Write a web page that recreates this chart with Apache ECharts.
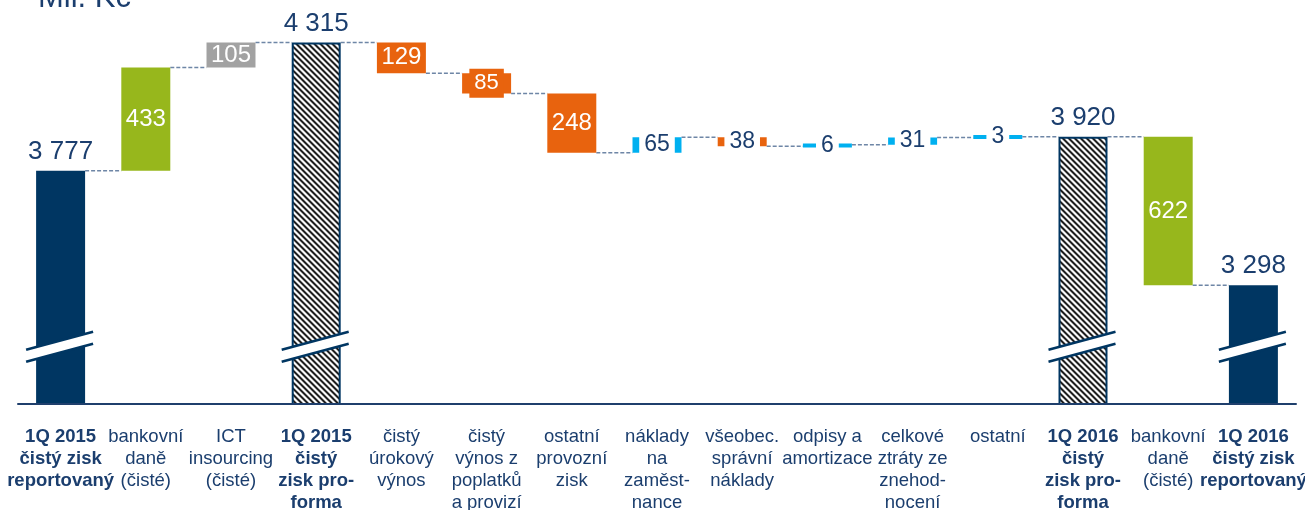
<!DOCTYPE html>
<html><head><meta charset="utf-8">
<script src="https://cdn.jsdelivr.net/npm/echarts@6/dist/echarts.min.js"></script>
<style>html,body{margin:0;padding:0;background:#fff}#c{width:1305px;height:510px}</style>
</head><body><div id="c"></div>
<script>
// ---- data ----
const categories = [
  '1Q 2015\nčistý zisk\nreportovaný',
  'bankovní\ndaně\n(čisté)',
  'ICT\ninsourcing\n(čisté)',
  '1Q 2015\nčistý\nzisk pro-\nforma',
  'čistý\núrokový\nvýnos',
  'čistý\nvýnos z\npoplatků\na provizí',
  'ostatní\nprovozní\nzisk',
  'náklady\nna\nzaměst-\nnance',
  'všeobec.\nsprávní\nnáklady',
  'odpisy a\namortizace',
  'celkové\nztráty ze\nznehod-\nnocení',
  'ostatní',
  '1Q 2016\nčistý\nzisk pro-\nforma',
  'bankovní\ndaně\n(čisté)',
  '1Q 2016\nčistý zisk\nreportovaný'
];
const values = [3777, 433, 105, 4315, -129, -85, -248, 65, -38, 6, 31, 3, 3920, -622, 3298];
const kinds = ['reported','tax','ict','proforma','op','op','op','op','op','op','op','op','proforma','tax','reported'];
const unitTitle = 'Mil. Kč';
const axisMin = 2800, axisMax = 4480, breakValue = 3040;

// ---- styles ----
const NAVY_TEXT = '#1b3e6e';
const NAVY_BAR = '#003662';
const GREEN = '#97b71c';
const GRAY = '#a2a2a2';
const ORANGE = '#e8630e';
const BLUE = '#00b0f0';
const CONNECTOR = '#6e86a6';
const FONT = '"Liberation Sans", Arial, sans-serif';

function fmt(v) {
  const s = String(Math.abs(v));
  return s.replace(/\B(?=(\d{3})+(?!\d))/g, ' ');
}
function isTotal(k) { return k === 'reported' || k === 'proforma'; }

// build waterfall items
let level = 0;
const items = values.map((v, i) => {
  const k = kinds[i];
  if (isTotal(k)) { level = v; return { low: axisMin, high: v, end: v, total: true }; }
  const start = level, end = level + v; level = end;
  return { low: Math.min(start, end), high: Math.max(start, end), end: end, total: false };
});

function hatchPattern() {
  const n = 6;
  const c = document.createElement('canvas'); c.width = n; c.height = n;
  const ctx = c.getContext('2d');
  const img = ctx.createImageData(n, n);
  for (let y = 0; y < n; y++) for (let x = 0; x < n; x++) {
    const d = (((x - y) % n) + n) % n;
    const v = (d === 0 || d === 1) ? 30 : ((d === 2 || d === 5) ? 150 : 250);
    const p = (y * n + x) * 4;
    img.data[p] = v; img.data[p+1] = v; img.data[p+2] = v; img.data[p+3] = 255;
  }
  ctx.putImageData(img, 0, 0);
  return c;
}
const hatch = hatchPattern();

function colorFor(i) {
  const k = kinds[i];
  if (k === 'reported') return NAVY_BAR;
  if (k === 'tax') return GREEN;
  if (k === 'ict') return GRAY;
  return values[i] < 0 ? ORANGE : BLUE;
}

function renderItem(params, api) {
  const i = params.dataIndex;
  const d = items[i];
  const k = kinds[i];
  const w = api.size([1, 0])[0] * 0.575;
  const xc = api.coord([i, d.high])[0];
  let yTop = api.coord([i, d.high])[1];
  let yBot = api.coord([i, d.low])[1];
  const realH = yBot - yTop;
  if (realH < 4) { const m = (yTop + yBot) / 2; yTop = m - 2; yBot = m + 2; }
  const ch = [];
  // connector to next bar
  if (i < items.length - 1) {
    const yl = api.coord([i, d.end])[1];
    const xn = api.coord([i + 1, d.end])[0];
    ch.push({ type: 'line', z2: 1, shape: { x1: xc + w / 2, y1: yl, x2: xn - w / 2, y2: yl },
      style: { stroke: CONNECTOR, lineWidth: 1.5, lineDash: [4, 2] } });
  }
  // bar
  if (k === 'proforma') {
    ch.push({ type: 'rect', z2: 2, shape: { x: xc - w / 2 + 1, y: yTop + 1, width: w - 2, height: yBot - yTop - 1 },
      style: { fill: { type: 'pattern', image: hatch, repeat: 'repeat' }, stroke: NAVY_BAR, lineWidth: 2 } });
  } else {
    ch.push({ type: 'rect', z2: 2, shape: { x: xc - w / 2, y: yTop, width: w, height: yBot - yTop },
      style: { fill: colorFor(i) } });
  }
  // axis break
  if (d.total) {
    const yc = api.coord([i, breakValue])[1];
    const xl = xc - w / 2 - 10, xr = xc + w / 2 + 8;
    const dy = 18 * (xr - xl) / 67 / 2;
    const g = 6;
    ch.push({ type: 'polygon', z2: 3, shape: { points: [[xl, yc + dy - g], [xr, yc - dy - g], [xr, yc - dy + g], [xl, yc + dy + g]] },
      style: { fill: '#fff' } });
    ch.push({ type: 'line', z2: 4, shape: { x1: xl, y1: yc + dy - g, x2: xr, y2: yc - dy - g }, style: { stroke: NAVY_BAR, lineWidth: 2.5 } });
    ch.push({ type: 'line', z2: 4, shape: { x1: xl, y1: yc + dy + g, x2: xr, y2: yc - dy + g }, style: { stroke: NAVY_BAR, lineWidth: 2.5 } });
  }
  // label
  const txt = fmt(values[i]);
  if (d.total) {
    ch.push({ type: 'text', z2: 5, x: xc, y: yTop - 19,
      style: { text: txt, fill: NAVY_TEXT, font: '26px ' + FONT, align: 'center', verticalAlign: 'middle' } });
  } else if (realH >= 24) {
    ch.push({ type: 'text', z2: 5, x: xc, y: (yTop + yBot) / 2,
      style: { text: txt, fill: '#fff', font: '24px ' + FONT, align: 'center', verticalAlign: 'middle' } });
  } else if (realH >= 18) {
    ch.push({ type: 'text', z2: 5, x: xc, y: (yTop + yBot) / 2,
      style: { text: txt, fill: '#fff', font: '22px ' + FONT, align: 'center', verticalAlign: 'middle',
        backgroundColor: colorFor(i), padding: [2, 5, 2, 5], lineHeight: 25 } });
  } else {
    ch.push({ type: 'text', z2: 5, x: xc, y: (yTop + yBot) / 2,
      style: { text: txt, fill: NAVY_TEXT, font: '23px ' + FONT, align: 'center', verticalAlign: 'middle',
        backgroundColor: '#fff', padding: [0, 5, 0, 5], lineHeight: 24 } });
  }
  return { type: 'group', children: ch };
}

const chart = echarts.init(document.getElementById('c'), null, { renderer: 'canvas' });
chart.setOption({
  animation: false,
  backgroundColor: '#fff',
  title: { text: unitTitle, left: 38, top: -17, padding: 0,
    textStyle: { fontSize: 31, fontWeight: 'normal', color: NAVY_TEXT, fontFamily: FONT } },
  grid: { left: 18, right: 9, top: 3, bottom: 106, containLabel: false, outerBoundsMode: 'none' },
  xAxis: {
    type: 'category', z: 10,
    data: categories.map((c, i) => ({ value: c, textStyle: { fontWeight: isTotal(kinds[i]) ? 'bold' : 'normal' } })),
    axisTick: { show: false },
    axisLine: { lineStyle: { color: '#1f3f6c', width: 2 } },
    axisLabel: { interval: 0, margin: 22, fontSize: 18.5, lineHeight: 22, color: NAVY_TEXT, fontFamily: FONT, hideOverlap: false }
  },
  yAxis: { type: 'value', min: axisMin, max: axisMax, show: false, splitLine: { show: false } },
  series: [{
    type: 'custom',
    renderItem: renderItem,
    encode: { x: 0, y: [1, 2] },
    data: items.map((d, i) => [i, d.low, d.high])
  }]
});
</script></body></html>
